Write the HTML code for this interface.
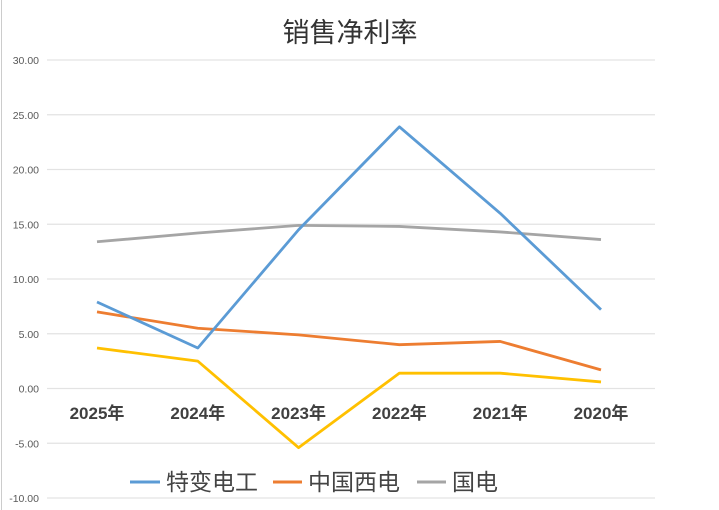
<!DOCTYPE html>
<html><head><meta charset="utf-8"><style>
body{margin:0;background:#fff;}
svg{display:block;font-family:"Liberation Sans","Noto Sans CJK SC",sans-serif;}
</style></head><body>
<svg id="chart" width="719" height="510">
<rect x="0" y="0" width="719" height="510" fill="#fff"/>
<line x1="1.5" y1="0" x2="1.5" y2="510" stroke="#ccc"/>
<text x="350" y="42" font-size="27" text-anchor="middle" fill="#333">销售净利率</text>
<g id="grid"></g><g id="xlabels"></g><g id="series"></g>
<g>
<g><line x1="130" y1="482" x2="160" y2="482" stroke="#5b9bd5" stroke-width="3"/><text x="166" y="490" font-size="23" fill="#444">特变电工</text></g>
<g><line x1="273" y1="482" x2="302" y2="482" stroke="#ed7d31" stroke-width="3"/><text x="308" y="490" font-size="23" fill="#444">中国西电</text></g>
<g><line x1="417" y1="482" x2="446" y2="482" stroke="#a5a5a5" stroke-width="3"/><text x="452" y="490" font-size="23" fill="#444">国电</text></g>
</g>
</svg>
<script>
const categories=["2025年","2024年","2023年","2022年","2021年","2020年"];
const tbea=[7.9,3.7,14.5,23.9,16.0,7.2];
const xidian=[7.0,5.5,4.9,4.0,4.3,1.7];
const guodian=[13.4,14.2,14.9,14.8,14.3,13.6];
const fourth=[3.7,2.5,-5.4,1.4,1.4,0.6];
const ticks=[30,25,20,15,10,5,0,-5,-10];
const NS="http://www.w3.org/2000/svg";
function y(v){return 388.5-v*10.95;}
function x(i){return 97+i*100.8;}
function mk(tag,attrs,parent){const e=document.createElementNS(NS,tag);for(const k in attrs)e.setAttribute(k,attrs[k]);parent.appendChild(e);return e;}
const grid=document.getElementById('grid');
ticks.forEach(t=>{
 const l=mk('line',{x1:47,x2:655,y1:y(t),y2:y(t),stroke:'#e3e3e3','stroke-width':1.2},grid);
 
 
 const tx=mk('text',{x:39,y:y(t)+4,'font-size':10.5,fill:'#595959','text-anchor':'end'},grid);
 tx.textContent=t.toFixed(2);
 
 
});
const xl=document.getElementById('xlabels');
categories.forEach((c,i)=>{
 const t=mk('text',{x:x(i),y:419,'font-size':17,'font-weight':'bold',fill:'#404040','text-anchor':'middle'},xl);
 t.textContent=c;
 
 
});
const sg=document.getElementById('series');
[[guodian,'#a5a5a5','series-guodian'],[xidian,'#ed7d31','series-xidian'],[fourth,'#ffc000','series-fourth'],[tbea,'#5b9bd5','series-tbea']].forEach(([d,c,n])=>{
 const p=mk('polyline',{points:d.map((v,i)=>x(i)+','+y(v)).join(' '),fill:'none',stroke:c,'stroke-width':2.8,'stroke-linejoin':'round'},sg);
 
 
});
</script>
</body></html>
